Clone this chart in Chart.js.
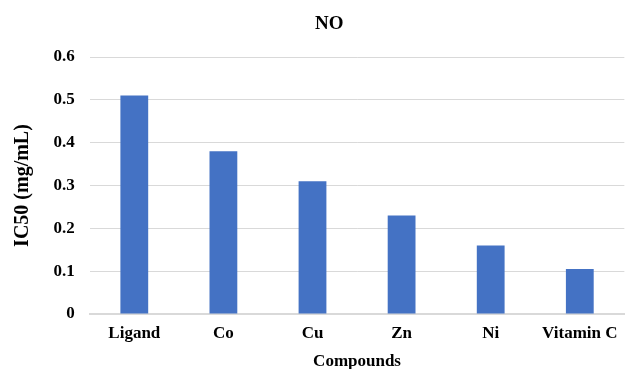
<!DOCTYPE html>
<html>
<head>
<meta charset="utf-8">
<title>NO - IC50</title>
<script src="https://cdn.jsdelivr.net/npm/chart.js@4.4.1/dist/chart.umd.min.js"></script>
<style>
    html, body { margin: 0; padding: 0; background: #fff; overflow: hidden; }
    #wrap { width: 629px; height: 369px; }
</style>
</head>
<body>
<div id="wrap"><canvas id="myChart"></canvas></div>
<script>
var compounds = ["Ligand", "Co", "Cu", "Zn", "Ni", "Vitamin C"];
var ic50 = [0.51, 0.38, 0.31, 0.23, 0.16, 0.105];
var yTicks = [0, 0.1, 0.2, 0.3, 0.4, 0.5, 0.6];

var serif = "'Liberation Serif', 'Times New Roman', serif";

var ctx = document.getElementById("myChart").getContext("2d");
var myChart = new Chart(ctx, {
    type: "bar",
    data: {
        labels: compounds,
        datasets: [{
            label: "IC50",
            data: ic50,
            backgroundColor: "#4472C4",
            borderWidth: 0,
            categoryPercentage: 1,
            barPercentage: 0.312
        }]
    },
    options: {
        responsive: true,
        maintainAspectRatio: false,
        animation: false,
        layout: { padding: { left: 10.5, right: 0, top: 12.6, bottom: 0 } },
        plugins: {
            legend: { display: false },
            tooltip: { enabled: false },
            title: {
                display: true,
                // leading spaces nudge the title right, like the original
                text: "    NO",
                color: "#000",
                font: { family: serif, size: 19, weight: "bold" },
                padding: { top: 0, bottom: 21.6 }
            }
        },
        scales: {
            x: {
                grid: { display: false, drawTicks: false, tickLength: 0 },
                border: { color: "#d9d9d9", width: 2 },
                ticks: {
                    color: "#000",
                    font: { family: serif, size: 17, weight: "bold", lineHeight: 1 },
                    padding: 11.5,
                    maxRotation: 0
                },
                title: {
                    display: true,
                    text: "Compounds",
                    color: "#000",
                    font: { family: serif, size: 17, weight: "bold", lineHeight: 0.88 },
                    padding: { top: 0, bottom: 0 }
                }
            },
            y: {
                min: 0,
                max: 0.6,
                afterBuildTicks: function (axis) {
                    axis.ticks = yTicks.map(function (v) { return { value: v }; });
                },
                grid: { color: "#d9d9d9", lineWidth: 1, drawTicks: false },
                border: { display: false },
                ticks: {
                    color: "#000",
                    padding: 15,
                    font: { family: serif, size: 17, weight: "bold" },
                    callback: function (v) { return v === 0 ? "0" : v.toFixed(1); }
                },
                title: {
                    display: true,
                    text: "IC50 (mg/mL)",
                    color: "#000",
                    font: { family: serif, size: 20, weight: "bold" },
                    padding: { top: 0, bottom: 4 }
                }
            }
        }
    }
});
</script>
</body>
</html>
